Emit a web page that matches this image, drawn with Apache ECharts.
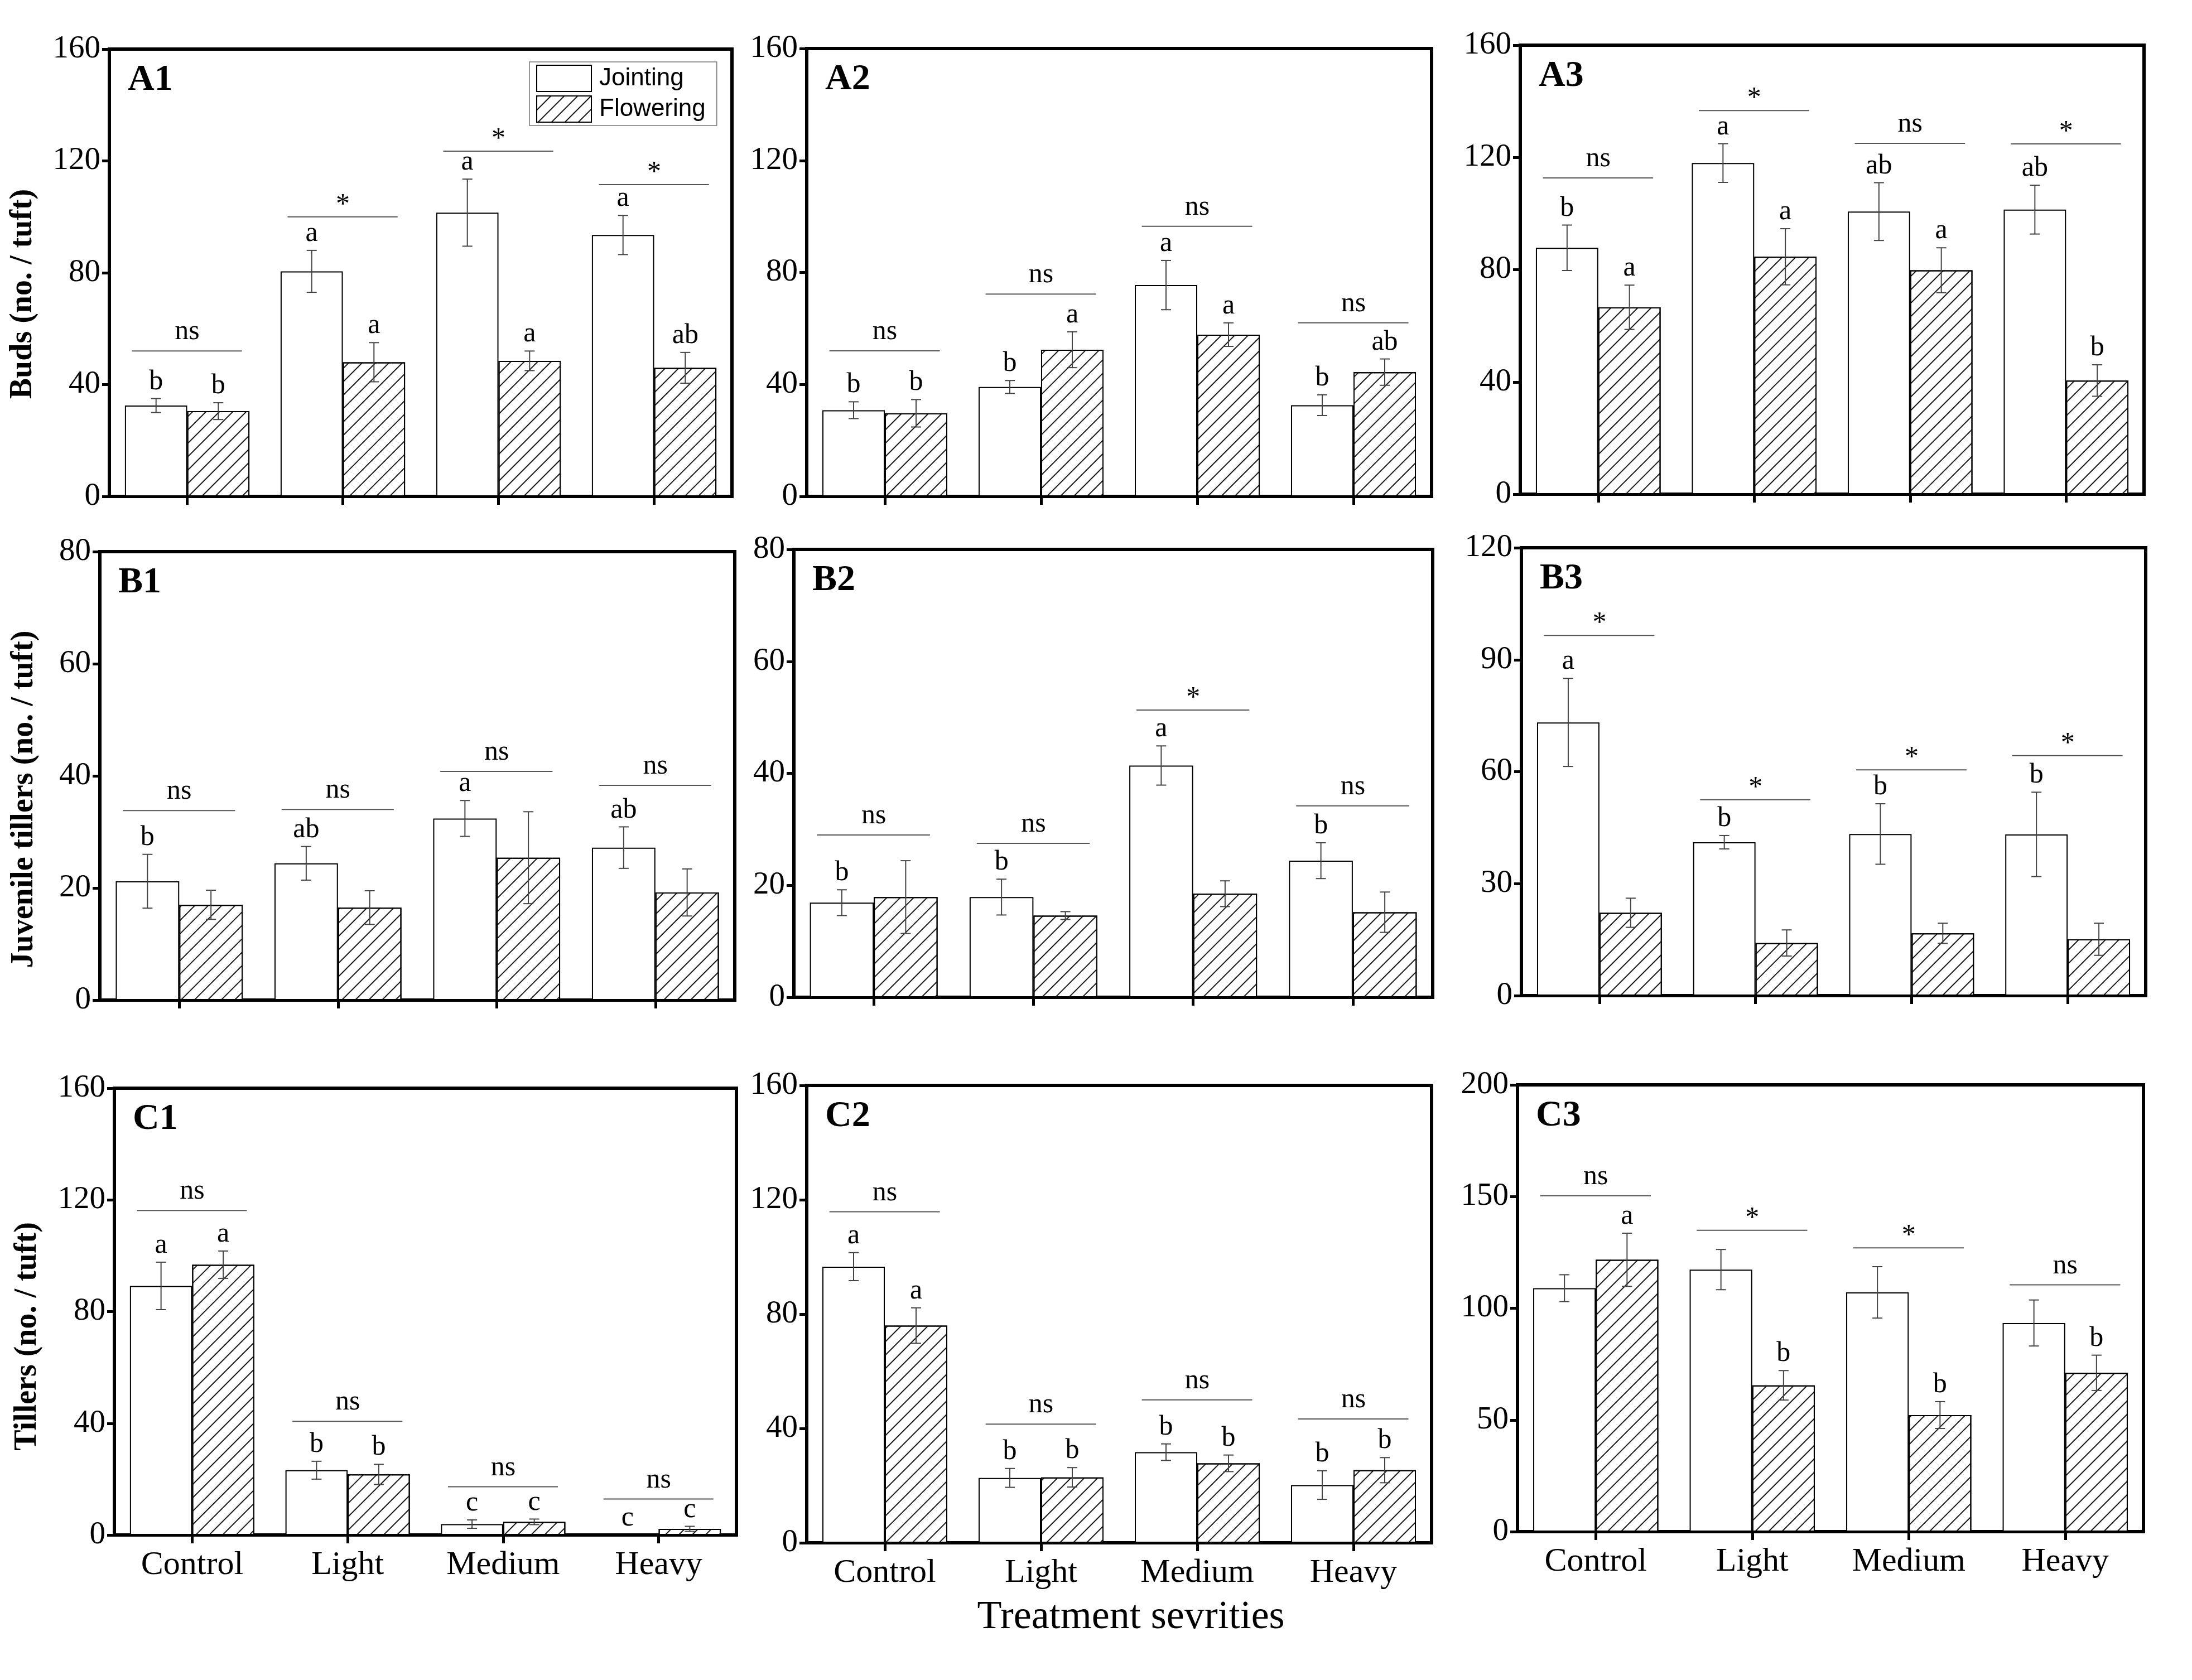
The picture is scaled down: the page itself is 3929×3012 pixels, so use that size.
<!DOCTYPE html>
<html><head><meta charset="utf-8">
<script src="https://cdn.jsdelivr.net/npm/echarts@6/dist/echarts.min.js"></script>
<style>html,body{margin:0;padding:0;background:#fff}#c{width:3929px;height:3012px}</style>
</head><body><div id="c"></div>
<script>
const categories = ['Control', 'Light', 'Medium', 'Heavy'];
const seriesNames = ['Jointing', 'Flowering'];
const panelNames = ['A1', 'A2', 'A3', 'B1', 'B2', 'B3', 'C1', 'C2', 'C3'];
const yTitles = ['Buds (no. / tuft)', 'Juvenile tillers (no. / tuft)', 'Tillers (no. / tuft)'];
const xTitle = 'Treatment sevrities';
const yMax = [160, 160, 160, 80, 80, 120, 160, 160, 200];
const yStep = [40, 40, 40, 20, 20, 30, 40, 40, 50];

// A1 - Buds
const A1_jointing = [32.5, 80.5, 101.5, 93.5];
const A1_jointingErr = [2.5, 7.5, 12, 7];
const A1_flowering = [30.5, 48, 48.5, 46];
const A1_floweringErr = [3, 7, 3.5, 5.5];
const A1_jointingLetters = ['b', 'a', 'a', 'a'];
const A1_floweringLetters = ['b', 'a', 'a', 'ab'];
const A1_sig = ['ns', '*', '*', '*'];
const A1_sigY = [52, 100, 123.5, 111.5];
// A2
const A2_jointing = [30.8, 39.1, 75.5, 32.6];
const A2_jointingErr = [3, 2.3, 8.8, 3.7];
const A2_flowering = [29.7, 52.4, 57.8, 44.4];
const A2_floweringErr = [4.9, 6.4, 4.2, 4.7];
const A2_jointingLetters = ['b', 'b', 'a', 'b'];
const A2_floweringLetters = ['b', 'a', 'a', 'ab'];
const A2_sig = ['ns', 'ns', 'ns', 'ns'];
const A2_sigY = [52, 72.3, 96.5, 62];
// A3
const A3_jointing = [87.8, 118, 100.7, 101.4];
const A3_jointingErr = [8.1, 6.9, 10.3, 8.7];
const A3_flowering = [66.6, 84.6, 79.8, 40.5];
const A3_floweringErr = [7.9, 10, 8, 5.6];
const A3_jointingLetters = ['b', 'a', 'ab', 'ab'];
const A3_floweringLetters = ['a', 'a', 'a', 'b'];
const A3_sig = ['ns', '*', 'ns', '*'];
const A3_sigY = [112.7, 136.7, 125, 124.8];
// B1 - Juvenile tillers
const B1_jointing = [21.2, 24.4, 32.4, 27.2];
const B1_jointingErr = [4.8, 3, 3.2, 3.7];
const B1_flowering = [17, 16.5, 25.4, 19.2];
const B1_floweringErr = [2.6, 3, 8.2, 4.2];
const B1_jointingLetters = ['b', 'ab', 'a', 'ab'];
const B1_floweringLetters = ['', '', '', ''];
const B1_sig = ['ns', 'ns', 'ns', 'ns'];
const B1_sigY = [33.8, 34, 40.8, 38.3];
// B2
const B2_jointing = [16.9, 17.9, 41.4, 24.4];
const B2_jointingErr = [2.3, 3.2, 3.5, 3.2];
const B2_flowering = [17.9, 14.6, 18.5, 15.2];
const B2_floweringErr = [6.5, 0.7, 2.3, 3.6];
const B2_jointingLetters = ['b', 'b', 'a', 'b'];
const B2_floweringLetters = ['', '', '', ''];
const B2_sig = ['ns', 'ns', '*', 'ns'];
const B2_sigY = [29, 27.5, 51.3, 34.2];
// B3
const B3_jointing = [73.2, 41.1, 43.3, 43.2];
const B3_jointingErr = [11.8, 1.8, 8.1, 11.3];
const B3_flowering = [22.2, 14.1, 16.7, 15.1];
const B3_floweringErr = [3.9, 3.5, 2.7, 4.3];
const B3_jointingLetters = ['a', 'b', 'b', 'b'];
const B3_floweringLetters = ['', '', '', ''];
const B3_sig = ['*', '*', '*', '*'];
const B3_sigY = [96.5, 52.5, 60.5, 64.3];
// C1 - Tillers
const C1_jointing = [89.2, 23.2, 3.9, 0];
const C1_jointingErr = [8.5, 3.2, 1.5, 0];
const C1_flowering = [96.8, 21.7, 4.7, 2.2];
const C1_floweringErr = [4.9, 3.6, 1.0, 0.9];
const C1_jointingLetters = ['a', 'b', 'c', 'c'];
const C1_floweringLetters = ['a', 'b', 'c', 'c'];
const C1_sig = ['ns', 'ns', 'ns', 'ns'];
const C1_sigY = [116.2, 40.7, 17.3, 12.9];
// C2
const C2_jointing = [96.6, 22.7, 31.7, 20.2];
const C2_jointingErr = [4.9, 3.3, 2.9, 5];
const C2_flowering = [76, 22.9, 27.8, 25.4];
const C2_floweringErr = [6.2, 3.4, 2.9, 4.4];
const C2_jointingLetters = ['a', 'b', 'b', 'b'];
const C2_floweringLetters = ['a', 'b', 'b', 'b'];
const C2_sig = ['ns', 'ns', 'ns', 'ns'];
const C2_sigY = [115.8, 41.5, 50, 43.3];
// C3
const C3_jointing = [109, 117.3, 107.1, 93.4];
const C3_jointingErr = [6, 9, 11.5, 10.3];
const C3_flowering = [121.7, 65.5, 52.2, 71.1];
const C3_floweringErr = [11.9, 6.6, 6, 7.9];
const C3_jointingLetters = ['', '', '', ''];
const C3_floweringLetters = ['a', 'b', 'b', 'b'];
const C3_sig = ['ns', '*', '*', 'ns'];
const C3_sigY = [150.4, 134.9, 127, 110.5];

const panels = [
  [A1_jointing, A1_jointingErr, A1_flowering, A1_floweringErr, A1_jointingLetters, A1_floweringLetters, A1_sig, A1_sigY],
  [A2_jointing, A2_jointingErr, A2_flowering, A2_floweringErr, A2_jointingLetters, A2_floweringLetters, A2_sig, A2_sigY],
  [A3_jointing, A3_jointingErr, A3_flowering, A3_floweringErr, A3_jointingLetters, A3_floweringLetters, A3_sig, A3_sigY],
  [B1_jointing, B1_jointingErr, B1_flowering, B1_floweringErr, B1_jointingLetters, B1_floweringLetters, B1_sig, B1_sigY],
  [B2_jointing, B2_jointingErr, B2_flowering, B2_floweringErr, B2_jointingLetters, B2_floweringLetters, B2_sig, B2_sigY],
  [B3_jointing, B3_jointingErr, B3_flowering, B3_floweringErr, B3_jointingLetters, B3_floweringLetters, B3_sig, B3_sigY],
  [C1_jointing, C1_jointingErr, C1_flowering, C1_floweringErr, C1_jointingLetters, C1_floweringLetters, C1_sig, C1_sigY],
  [C2_jointing, C2_jointingErr, C2_flowering, C2_floweringErr, C2_jointingLetters, C2_floweringLetters, C2_sig, C2_sigY],
  [C3_jointing, C3_jointingErr, C3_flowering, C3_floweringErr, C3_jointingLetters, C3_floweringLetters, C3_sig, C3_sigY]
];

// layout (pixels)
const gridLeft = [196, 1446, 2725, 179, 1423, 2727, 205, 1446, 2720];
const gridTop = [88, 87, 81, 989, 985, 982, 1951, 1946, 1945];
const gridWidth = [1116, 1120, 1118, 1138, 1145, 1119, 1115, 1120, 1122];
const gridHeight = [802, 803, 805, 804, 803, 803, 801, 820, 801];

const SERIF = '"Liberation Serif", "Times New Roman", serif';
const hatch = {
  symbol: 'rect', symbolSize: 1, dashArrayX: [1, 0], dashArrayY: [1.5, 14.5],
  rotation: -Math.PI / 4, color: '#1a1a1a'
};

function errRender(side, letters) {
  return function (params, api) {
    const ci = api.value(0), v = api.value(1), e = api.value(2);
    const catW = api.size([1, 0])[0];
    const x = api.coord([ci, v])[0] + side * 0.2 * catW;
    const top = api.coord([ci, v + e])[1];
    const bot = api.coord([ci, v - e])[1];
    const children = [];
    const st = { stroke: '#444', lineWidth: 2 };
    if (e > 0) {
      children.push({ type: 'line', shape: { x1: x, y1: top, x2: x, y2: bot }, style: st });
      children.push({ type: 'line', shape: { x1: x - 9, y1: top, x2: x + 9, y2: top }, style: st });
      children.push({ type: 'line', shape: { x1: x - 9, y1: bot, x2: x + 9, y2: bot }, style: st });
    }
    const t = letters[params.dataIndex];
    if (t) {
      children.push({ type: 'text', x: x, y: top - 30,
        style: { text: t, fill: '#000', font: '50px ' + SERIF, align: 'center', verticalAlign: 'middle' } });
    }
    return { type: 'group', children: children };
  };
}

function sigRender(sigs) {
  return function (params, api) {
    const ci = api.value(0), y = api.value(1);
    const c = api.coord([ci, y]);
    const w = api.size([1, 0])[0];
    const t = sigs[params.dataIndex];
    return { type: 'group', children: [
      { type: 'line', shape: { x1: c[0] - 0.355 * w, y1: c[1], x2: c[0] + 0.352 * w, y2: c[1] },
        style: { stroke: '#555', lineWidth: 2 } },
      { type: 'text', x: c[0], y: c[1] - (t === '*' ? 21 : 34),
        style: { text: t, fill: '#000', font: '50px ' + SERIF, align: 'center', verticalAlign: 'middle' } }
    ] };
  };
}

const grids = [], xAxes = [], yAxes = [], series = [], graphics = [];
panels.forEach(function (p, i) {
  const row = Math.floor(i / 3);
  grids.push({ left: gridLeft[i], top: gridTop[i], width: gridWidth[i], height: gridHeight[i],
    show: true, borderColor: '#000', borderWidth: 6, backgroundColor: 'transparent', containLabel: false });
  xAxes.push({ type: 'category', gridIndex: i, data: categories,
    axisLine: { show: true, lineStyle: { color: '#000', width: 6 } },
    axisTick: { show: true, alignWithLabel: true, length: 15, inside: false, lineStyle: { color: '#000', width: 5 } },
    axisLabel: { show: row === 2, interval: 0, margin: 24, color: '#000', fontFamily: SERIF, fontSize: 60 },
    splitLine: { show: false } });
  yAxes.push({ type: 'value', gridIndex: i, min: 0, max: yMax[i], interval: yStep[i],
    axisLine: { show: true, lineStyle: { color: '#000', width: 6 } },
    axisTick: { show: true, length: 13, inside: false, lineStyle: { color: '#000', width: 5 } },
    axisLabel: { show: true, margin: 16, color: '#000', fontFamily: SERIF, fontSize: 57 },
    splitLine: { show: false } });
  const barBase = { type: 'bar', xAxisIndex: i, yAxisIndex: i, barGap: '0%', barCategoryGap: '20%', silent: true };
  series.push(Object.assign({}, barBase, { name: seriesNames[0], data: p[0],
    itemStyle: { color: '#fff', borderColor: '#000', borderWidth: 2 } }));
  series.push(Object.assign({}, barBase, { name: seriesNames[1], data: p[2],
    itemStyle: { color: '#fff', borderColor: '#000', borderWidth: 2, decal: hatch } }));
  series.push({ type: 'custom', xAxisIndex: i, yAxisIndex: i, silent: true, clip: false, z: 5,
    renderItem: errRender(-1, p[4]), data: p[0].map(function (v, k) { return [k, v, p[1][k]]; }) });
  series.push({ type: 'custom', xAxisIndex: i, yAxisIndex: i, silent: true, clip: false, z: 5,
    renderItem: errRender(1, p[5]), data: p[2].map(function (v, k) { return [k, v, p[3][k]]; }) });
  series.push({ type: 'custom', xAxisIndex: i, yAxisIndex: i, silent: true, clip: false, z: 5,
    renderItem: sigRender(p[6]), data: p[7].map(function (v, k) { return [k, v]; }) });
  graphics.push({ type: 'text', x: gridLeft[i] + 33, y: gridTop[i] + 23,
    style: { text: panelNames[i], fill: '#000', font: 'bold 66px ' + SERIF, verticalAlign: 'top' } });
});

const yTitleX = [42, 44, 50];
const yTitleY = [527, 1433, 2396];
yTitles.forEach(function (t, r) {
  graphics.push({ type: 'text', x: yTitleX[r], y: yTitleY[r], rotation: Math.PI / 2,
    style: { text: t, fill: '#000', font: 'bold 56px ' + SERIF, align: 'center', verticalAlign: 'middle' } });
});
graphics.push({ type: 'text', x: 2027, y: 2900,
  style: { text: xTitle, fill: '#000', font: '72px ' + SERIF, align: 'center', verticalAlign: 'middle' } });

const chart = echarts.init(document.getElementById('c'), null, { renderer: 'canvas', width: 3929, height: 3012 });
chart.setOption({
  backgroundColor: '#fff',
  animation: false,
  legend: {
    data: seriesNames, orient: 'vertical', left: 949, top: 111,
    padding: [5, 20, 5, 12], itemWidth: 98, itemHeight: 47, itemGap: 6,
    icon: 'rect', borderColor: '#777', borderWidth: 1.5, selectedMode: false,
    textStyle: { fontFamily: '"Liberation Sans", Arial, sans-serif', fontSize: 44, color: '#000', padding: [0, 0, 0, 9] }
  },
  grid: grids, xAxis: xAxes, yAxis: yAxes, series: series, graphic: graphics
});
</script></body></html>
